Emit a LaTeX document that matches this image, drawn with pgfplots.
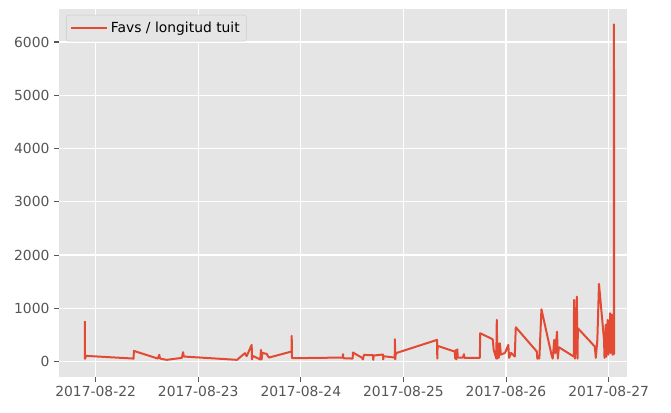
\documentclass[border=0pt]{standalone}
\usepackage{pgfplots}
\pgfplotsset{compat=1.18}
\usepackage{fontspec}
\setmainfont{DejaVu Sans}
\definecolor{ggbg}{HTML}{E5E5E5}
\definecolor{ggred}{HTML}{E24A33}
\definecolor{ticklab}{HTML}{555555}
\begin{document}
\begin{tikzpicture}
\path[use as bounding box] (-44.25pt,-27pt) rectangle (459pt,282.75pt);
\begin{axis}[
  at={(0,0)}, anchor=south west,
  scale only axis, width=426pt, height=276pt,
  xmin=-0.357, xmax=5.179, ymin=-290, ymax=6620,
  axis background/.style={fill=ggbg},
  axis line style={draw=none},
  grid=major, major grid style={white, line width=0.83pt},
  xtick={0,1,2,3,4,5},
  xticklabels={2017-08-22,2017-08-23,2017-08-24,2017-08-25,2017-08-26,2017-08-27},
  ytick={0,1000,2000,3000,4000,5000,6000},
  tick align=outside, tick pos=left,
  major tick length=3.65pt,
  tick style={ticklab, line width=0.8pt},
  ticklabel style={font=\fontsize{10.4}{12}\selectfont, text=ticklab},
  /pgf/number format/assume math mode=true,
  scaled y ticks=false,
  yticklabel style={/pgf/number format/1000 sep={}},
  legend style={at={(0.0123,0.984)}, anchor=north west, fill=ggbg, draw=black!20,
    rounded corners=2pt, font=\fontsize{10.4}{12}\selectfont, inner xsep=3pt, inner ysep=3pt},
  legend cell align=left,
  legend image code/.code={\draw[#1] (0pt,0pt) -- (21pt,0pt); \path (0pt,0pt) -- (27pt,0pt);},
]
\addplot[ggred, line width=1.5pt, line join=round] coordinates {
(-0.105,760) (-0.104,50) (-0.102,125) (-0.100,60) (-0.095,107)
(0.371,56) (0.372,200) (0.607,56) (0.620,126) (0.628,56) (0.692,32)
(0.840,69) (0.852,176) (0.860,94)
(1.378,32) (1.455,157) (1.472,100) (1.521,313) (1.524,40) (1.530,107)
(1.605,40) (1.611,219) (1.618,40) (1.625,163) (1.667,144) (1.689,75)
(1.909,188) (1.911,482) (1.914,63)
(2.408,75) (2.411,138) (2.414,63) (2.505,56) (2.508,169)
(2.593,75) (2.605,40) (2.615,125) (2.703,119) (2.706,32) (2.710,113)
(2.800,132) (2.803,40) (2.807,100) (2.915,75) (2.917,419) (2.920,40) (2.924,126) (2.935,163)
(3.328,407) (3.330,56) (3.333,294)
(3.500,188) (3.505,56) (3.510,213) (3.515,40) (3.525,230) (3.530,75)
(3.580,75) (3.590,138) (3.595,70) (3.745,70) (3.748,532)
(3.870,419) (3.880,219) (3.905,56) (3.910,782) (3.915,56) (3.920,344) (3.930,70) (3.940,344) (3.950,130) (3.990,163)
(4.022,313) (4.030,70) (4.050,163) (4.085,94) (4.095,644)
(4.300,188) (4.305,56) (4.325,60) (4.345,982)
(4.445,113) (4.455,56) (4.470,407) (4.480,160) (4.497,563) (4.505,56) (4.515,269)
(4.660,94) (4.663,1157) (4.672,56) (4.690,1219) (4.697,56) (4.700,626)
(4.865,282) (4.875,70) (4.890,407) (4.906,1457)
(4.955,407) (4.960,70) (4.972,688) (4.978,90) (4.990,782) (4.998,130)
(5.015,907) (5.020,160) (5.030,880) (5.038,130) (5.050,140) (5.052,6330) (5.054,140)
};
\addlegendentry{Favs / longitud tuit}
\end{axis}
\end{tikzpicture}
\end{document}
